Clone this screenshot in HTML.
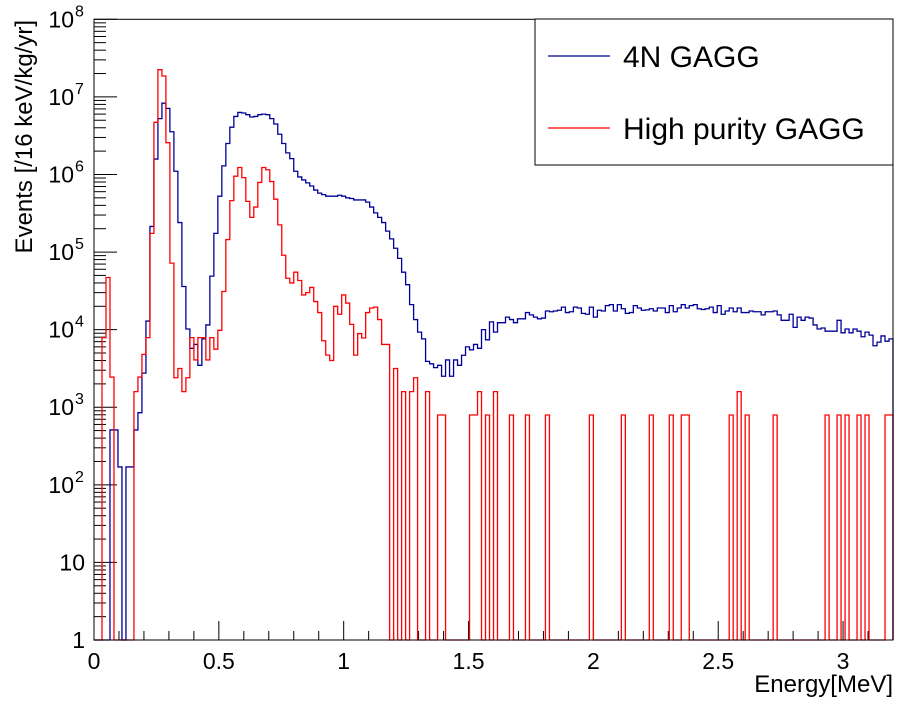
<!DOCTYPE html>
<html><head><meta charset="utf-8"><style>
html,body{margin:0;padding:0;background:#fff;}
svg{display:block;font-family:"Liberation Sans",Arial,sans-serif;}
</style></head><body>
<svg id="chart" width="915" height="706" viewBox="0 0 915 706" xmlns="http://www.w3.org/2000/svg">
<rect x="0" y="0" width="915" height="706" fill="#fff"/>
<g id="axes"></g>
<g id="series"></g>
<rect x="94" y="19.3" width="799" height="620.7" fill="none" stroke="#000" stroke-width="1"/>
<g>
<rect x="535" y="19" width="358" height="146" fill="#fff" stroke="#000" stroke-width="1"/>
<line x1="548" y1="56" x2="610" y2="56" stroke="#000099" stroke-width="1.3"/>
<text x="623" y="67" font-size="30">4N GAGG</text>
<line x1="548" y1="128" x2="610" y2="128" stroke="#ff0000" stroke-width="1.3"/>
<text x="623" y="139" font-size="30">High purity GAGG</text>
</g>
<text x="893" y="692" font-size="24" text-anchor="end">Energy[MeV]</text>
<text transform="translate(32,20) rotate(-90)" font-size="24" text-anchor="end">Events [/16 keV/kg/yr]</text>
</svg>
<script>
const binWidth = 0.016;
const xTicks = [0, 0.5, 1, 1.5, 2, 2.5, 3];
const xTickLabels = ["0", "0.5", "1", "1.5", "2", "2.5", "3"];
const yDecades = [0, 1, 2, 3, 4, 5, 6, 7, 8];
const gagg4N = [
0,0,0,0,510,510,170,0,170,170,
510,850,2750,12900,214000,1580000,5250000,8300000,7100000,3550000,
1100000,240000,36000,10200,5750,6450,3470,7600,11500,49000,
174000,525000,1290000,2510000,4070000,5600000,6300000,6200000,5900000,5500000,
5600000,5900000,6000000,5900000,5250000,4470000,3300000,2510000,1900000,1600000,
1100000,930000,850000,780000,710000,630000,575000,550000,525000,525000,
525000,540000,525000,500000,490000,470000,470000,470000,440000,380000,
320000,280000,240000,186000,148000,112000,83000,55000,38000,21000,
13500,9300,7600,3900,3630,3240,3470,2510,4070,2510,
4070,3470,4680,6000,5500,6450,5750,10000,7400,12600,
9300,12300,12300,14500,13500,12300,13800,13800,16600,15500,
14500,13800,14100,17400,17000,17400,17800,19500,16600,17000,
19500,19000,16200,15800,19500,14500,17800,17400,20400,21000,
17400,21000,18600,16200,16600,20400,19000,17800,18000,18600,
17400,19000,19000,16600,20400,17000,19000,21000,19000,20400,
21000,18600,18200,18600,19500,16600,20400,15800,17400,19000,
17000,19000,16600,16600,17400,17000,17000,15500,17000,17000,
17400,15500,13200,13200,15800,10700,14500,13200,14500,14100,
11500,10200,10500,9550,9550,9550,13200,9100,10200,9100,
10200,9550,8100,9300,8500,6200,6900,8300,7100,7600
];
const gaggHighPurity = [
0,0,7900,47000,2450,0,0,0,0,0,
1590,2450,4800,7900,174000,4700000,22400000,18600000,2570000,72000,
2400,3160,1590,2400,7900,4070,7900,7900,4070,7900,
5600,9800,31000,145000,460000,950000,1230000,910000,450000,280000,
380000,790000,1230000,1150000,810000,480000,224000,91000,46000,40000,
55000,43000,28000,30000,35000,23000,16600,7200,4700,4000,
20000,15800,28000,22000,11700,4700,8900,7800,16600,19000,
19500,13500,6450,6450,0,3160,0,1590,0,1590,
2400,0,0,1590,0,0,794,794,0,0,
0,0,0,0,794,794,1590,0,794,0,
1590,0,0,0,794,0,0,0,794,0,
0,0,0,794,0,0,0,0,0,0,
0,0,0,0,794,0,0,0,0,0,
0,0,794,0,0,0,0,0,0,794,
0,0,0,0,794,0,0,794,794,0,
0,0,0,0,0,0,0,0,0,794,
0,1590,0,794,0,0,0,0,0,0,
794,0,0,0,0,0,0,0,0,0,
0,0,0,794,0,0,794,0,794,0,
0,794,0,794,0,0,0,0,794,794
];

const NS = "http://www.w3.org/2000/svg";
const X0 = 94, X1 = 893, XMAX = 3.2, YB = 640, YT = 19.3, DEC = 8;
function xScale(e){ return X0 + e / XMAX * (X1 - X0); }
function yScale(v){ if (v <= 1) return YB; return YB - Math.log10(v) / DEC * (YB - YT); }
function mk(tag, attrs, parent){ const el = document.createElementNS(NS, tag); for (const k in attrs) el.setAttribute(k, attrs[k]); parent.appendChild(el); return el; }

const axes = document.getElementById('axes');
for (let i = 0; i <= 32; i++) {
  const e = i * 0.1; const x = xScale(e);
  const major = (i % 5 === 0);
  const t = mk('line', {x1: x, x2: x, y1: YB, y2: YB - (major ? 19 : 9), stroke: '#000', 'stroke-width': 1}, axes);
  
  
}
xTicks.forEach((v, i) => {
  const t = mk('text', {x: xScale(v), y: 669, 'font-size': 23, 'text-anchor': 'middle'}, axes);
  t.textContent = xTickLabels[i];
  
  
});
yDecades.forEach(d => {
  const y = yScale(Math.pow(10, d));
  const t = mk('line', {x1: X0, x2: X0 + 23, y1: y, y2: y, stroke: '#000', 'stroke-width': 1}, axes);
  
  
  if (d < DEC) {
    for (let m = 2; m <= 9; m++) {
      const ym = yScale(m * Math.pow(10, d));
      const mt = mk('line', {x1: X0, x2: X0 + 12, y1: ym, y2: ym, stroke: '#000', 'stroke-width': 1}, axes);
      
      
    }
  }
  const lab = mk('text', {x: d >= 2 ? 74 : 85, y: y + 8, 'font-size': 23, 'text-anchor': 'end'}, axes);
  
  
  if (d === 0) lab.textContent = '1';
  else if (d === 1) lab.textContent = '10';
  else {
    lab.textContent = '10';
    const sup = mk('text', {x: 75, y: y - 3, 'font-size': 16}, axes);
    sup.textContent = String(d);
    
    
  }
});

function histPath(vals){
  let d = 'M' + xScale(0) + ',' + YB;
  vals.forEach((v, i) => {
    const xa = xScale(i * binWidth), xb = xScale((i + 1) * binWidth), y = yScale(v);
    d += ' L' + xa.toFixed(2) + ',' + y.toFixed(2) + ' L' + xb.toFixed(2) + ',' + y.toFixed(2);
  });
  d += ' L' + xScale(vals.length * binWidth).toFixed(2) + ',' + YB;
  return d;
}
const series = document.getElementById('series');
const pb = mk('path', {d: histPath(gagg4N), fill: 'none', stroke: '#000099', 'stroke-width': 1.3}, series);


const pr = mk('path', {d: histPath(gaggHighPurity), fill: 'none', stroke: '#ff0000', 'stroke-width': 1.3}, series);


</script>
</body></html>
